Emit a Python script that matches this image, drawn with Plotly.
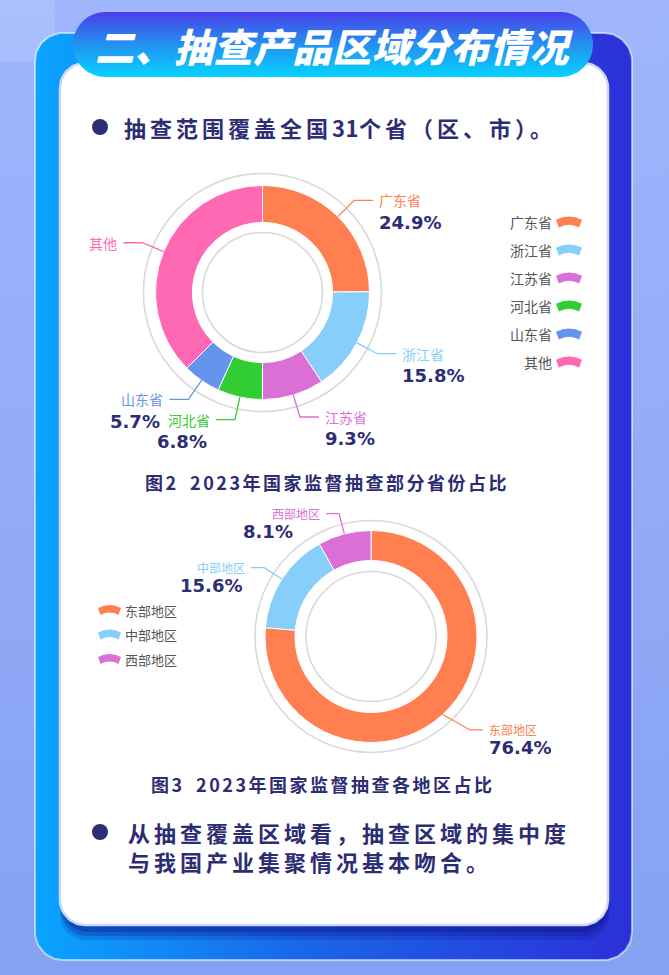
import numpy as np
import plotly.graph_objects as go

W, H = 669, 975

# ---------------- data ----------------
title_text = "二、抽查产品区域分布情况"
bullet1_parts = ["抽查范围覆盖全国", "31", "个省（区、市）。"]
bullet2_lines = ["从抽查覆盖区域看，抽查区域的集中度", "与我国产业集聚情况基本吻合。"]

prov_labels = ["广东省", "浙江省", "江苏省", "河北省", "山东省", "其他"]
prov_values = [24.9, 15.8, 9.3, 6.8, 5.7, 37.5]
prov_show_pct = [True, True, True, True, True, False]
prov_colors = ["#ff7f50", "#87cefa", "#da70d6", "#32cd32", "#6495ed", "#ff69b4"]
caption2 = "图2\u20022023年国家监督抽查部分省份占比"

region_labels = ["东部地区", "中部地区", "西部地区"]
region_values = [76.4, 15.6, 8.1]
region_show_pct = [True, True, True]
region_colors = ["#ff7f50", "#87cefa", "#da70d6"]
caption3 = "图3\u20022023年国家监督抽查各地区占比"

# ---------------- style ----------------
NAVY = "#2c2d73"
CJK = "Noto Sans CJK SC"
PCT_FONT = "DejaVu Sans"

fig = go.Figure()


def rrect(x0, y0, x1, y1, r, n=18):
    xs, ys = [], []
    for cx, cy, a0, a1 in [(x1 - r, y0 + r, -90, 0), (x1 - r, y1 - r, 0, 90),
                           (x0 + r, y1 - r, 90, 180), (x0 + r, y0 + r, 180, 270)]:
        t = np.radians(np.linspace(a0, a1, n))
        xs += list(cx + r * np.cos(t))
        ys += list(cy + r * np.sin(t))
    xs.append(xs[0]); ys.append(ys[0])
    return xs, ys


def add_box(x0, y0, x1, y1, r, fill=None, grad=None, line=None, lw=0):
    xs, ys = rrect(x0, y0, x1, y1, r)
    kw = dict(x=xs, y=ys, fill="toself", hoverinfo="skip", showlegend=False,
              mode="lines" if line else "none")
    if line:
        kw["line"] = dict(color=line, width=lw)
    if grad:
        kw["fillgradient"] = grad
        kw["fillcolor"] = None
    else:
        kw["fillcolor"] = fill
    fig.add_trace(go.Scatter(**kw))


# page background
add_box(0, 0, W, H, 0.001, grad=dict(type="vertical", colorscale=[[0, "#9fb6fd"], [1, "#85a1f2"]], start=0, stop=H))
fig.add_trace(go.Scatter(x=[0, 55, 55, 30, 0, 0], y=[0, 0, 40, 62, 62, 0], fill="toself", mode="none",
                         fillcolor="rgba(255,255,255,0.13)", hoverinfo="skip", showlegend=False))

# outer blue frame
add_box(35, 33, 632, 960, 28,
        grad=dict(type="horizontal", colorscale=[[0, "#0aa4ff"], [0.45, "#1a66ea"], [1, "#2b30d8"]], start=35, stop=632),
        line="rgba(255,255,255,0.55)", lw=2)
# shadow under white panel
for i, a in enumerate([0.18, 0.25, 0.32]):
    add_box(60 + i, 66 + 2 * i, 610 - i, 940 - 4 * i, 26, fill=f"rgba(12,20,140,{a})")
# white panel
add_box(60, 63, 608, 925, 25, fill="#ffffff", line="#cfd7f4", lw=2.5)
# title pill
add_box(73, 12, 593, 77, 32.5,
        grad=dict(type="vertical", colorscale=[[0, "#4a3fe6"], [0.5, "#2491f2"], [1, "#05d3ff"]], start=12, stop=77))

shapes = []
anns = []


def sp(s, spacing):
    return f'<span style="letter-spacing:{spacing}px">{s}</span>'


def text(x, y, s, size, color, family=CJK, weight=400, anchor="left", spacing=None, style="normal"):
    if spacing:
        s = sp(s, spacing)
    anns.append(dict(x=x, y=y, xref="x", yref="y", text=s, showarrow=False, xanchor=anchor, yanchor="middle",
                     borderpad=0, borderwidth=0,
                     font=dict(family=family, size=size, color=color, weight=weight, style=style)))


# title
text(334, 45, title_text, 39, "#ffffff", weight=900, anchor="center", spacing=0.5, style="italic")

# bullets
for (bx, by) in [(100, 127), (100, 832)]:
    shapes.append(dict(type="circle", xref="x", yref="y", x0=bx - 8, x1=bx + 8, y0=by - 8, y1=by + 8,
                       fillcolor=NAVY, line=dict(width=0)))
b1 = sp(bullet1_parts[0], 4) + sp(bullet1_parts[1], 0.5) + sp(bullet1_parts[2], 4)
text(124, 127, b1, 22, NAVY, weight=700)
text(128, 832, bullet2_lines[0], 22, NAVY, weight=700, spacing=4)
text(128, 861, bullet2_lines[1], 22, NAVY, weight=700, spacing=4)


def donut(values, labels, colors, show_pct, cx, cy, r, hole, ring_in, ring_out,
          L1, L2, gap, name_size, pct_dy, nudges):
    fig.add_trace(go.Pie(values=values, labels=labels, sort=False, direction="clockwise", rotation=0,
                         hole=hole, textinfo="none", hoverinfo="skip", showlegend=False,
                         marker=dict(colors=colors, line=dict(color="white", width=1)),
                         domain=dict(x=[(cx - r) / W, (cx + r) / W], y=[1 - (cy + r) / H, 1 - (cy - r) / H])))
    for R in (ring_in, ring_out):
        shapes.append(dict(type="circle", xref="x", yref="y", x0=cx - R, x1=cx + R, y0=cy - R, y1=cy + R,
                           line=dict(color="#d9d9d9", width=1.6)))
    total = sum(values)
    cum = 0.0
    for v, lab, col, showp in zip(values, labels, colors, show_pct):
        mid = (cum + v / 2) / total * 2 * np.pi
        cum += v
        s, c = np.sin(mid), np.cos(mid)
        nd = nudges.get(lab, {})
        x0, y0 = cx + r * s, cy - r * c
        x1 = cx + (r + L1) * s + nd.get("dx", 0)
        y1 = cy - (r + L1) * c + nd.get("dy", 0)
        side = 1 if s >= 0 else -1
        x2 = x1 + side * L2
        shapes.append(dict(type="path", xref="x", yref="y", path=f"M{x0},{y0} L{x1},{y1} L{x2},{y1}",
                           line=dict(color=col, width=1.3)))
        tx = x2 + side * gap
        anchor = "left" if side > 0 else "right"
        text(tx, y1, lab, name_size, col, anchor=anchor)
        if showp:
            px = tx + (0 if side > 0 else -3) + nd.get("pct_dx", 0)
            text(px, y1 + pct_dy, f"{v}%", 18, NAVY, family=PCT_FONT, weight=700, anchor=anchor)


donut(prov_values, prov_labels, prov_colors, prov_show_pct, 262.5, 292.5, 107, 0.655, 60, 119,
      23, 19, 6, 14, 22, {})
donut(region_values, region_labels, region_colors, region_show_pct, 371, 636.5, 106, 0.717, 65, 116,
      21, 13, 6, 12, 18, {"东部地区": {"dx": 13}, "西部地区": {"pct_dx": -24}})


def fan(ix, iy, w, h, col):
    top, bot = iy - h / 2, iy + h / 2
    sag = h * 0.3
    bw = w * 0.78
    p = (f"M{ix - w / 2},{top + sag} Q{ix},{top - sag} {ix + w / 2},{top + sag} "
         f"L{ix + bw / 2},{bot} Q{ix},{bot - 2 * sag * 0.8} {ix - bw / 2},{bot} Z")
    shapes.append(dict(type="path", xref="x", yref="y", path=p, fillcolor=col, line=dict(width=0)))


# legend 1 (right side)
for i, (lab, col) in enumerate(zip(prov_labels, prov_colors)):
    y = 222 + 28 * i
    fan(569, y, 26, 11, col)
    text(552, y, lab, 14, "#555555", anchor="right")

# legend 2 (left side)
for i, (lab, col) in enumerate(zip(region_labels, region_colors)):
    y = 610 + 24.5 * i
    fan(109.5, y, 23, 10, col)
    text(125, y, lab, 13, "#555555")

# captions
text(326.5, 482, caption2, 18, NAVY, weight=700, anchor="center", spacing=2.5)
text(322.5, 784, caption3, 18, NAVY, weight=700, anchor="center", spacing=2.5)

fig.update_layout(
    width=W, height=H, autosize=False,
    margin=dict(l=0, r=0, t=0, b=0, pad=0),
    paper_bgcolor="#93acf8", plot_bgcolor="rgba(0,0,0,0)",
    xaxis=dict(range=[0, W], visible=False, fixedrange=True, domain=[0, 1]),
    yaxis=dict(range=[H, 0], visible=False, fixedrange=True, domain=[0, 1]),
    shapes=shapes, annotations=anns, showlegend=False,
)

fig.write_html("out.html", config={"displayModeBar": False})
